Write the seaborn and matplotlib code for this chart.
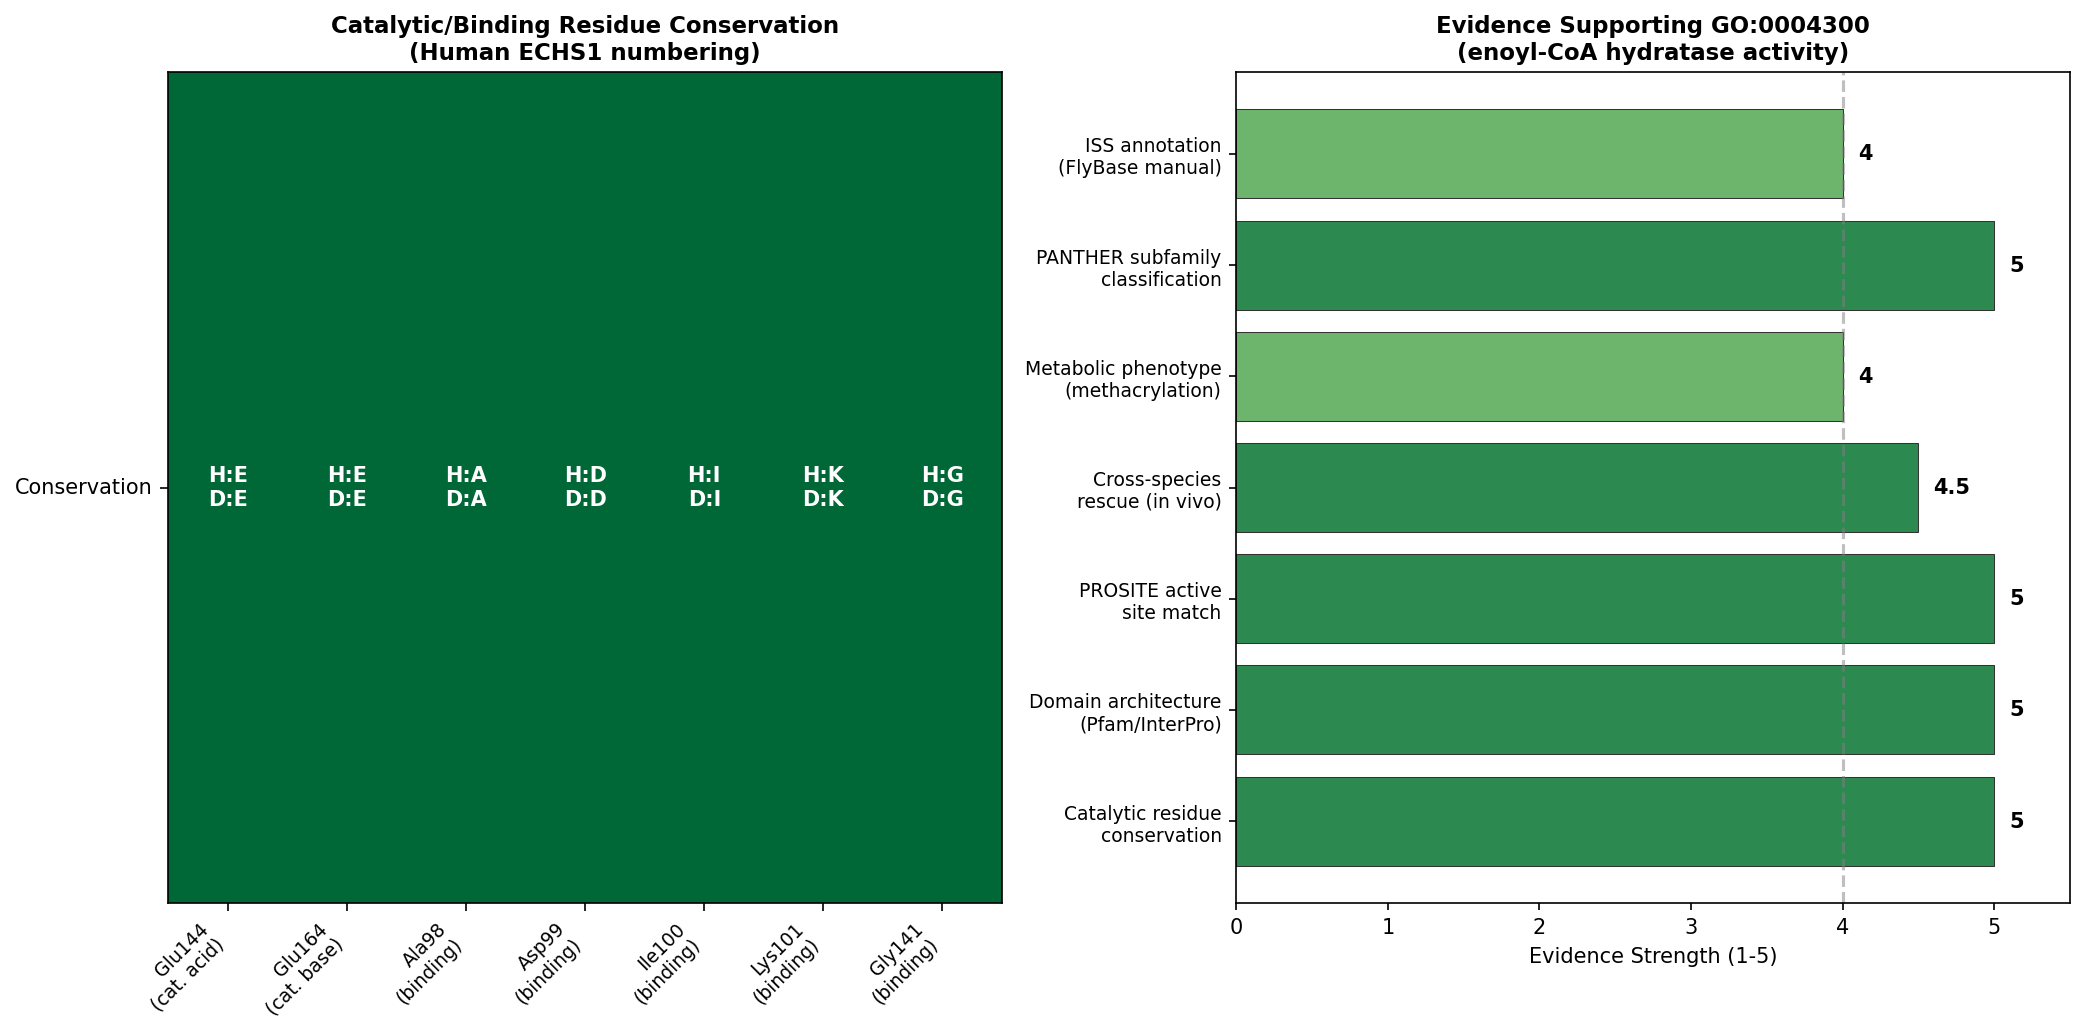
import pandas as pd
import seaborn as sns
import matplotlib.pyplot as plt
import numpy as np

# residue conservation data (human vs drosophila)
residues = ['Glu144\n(cat. acid)', 'Glu164\n(cat. base)', 'Ala98\n(binding)', 'Asp99\n(binding)',
            'Ile100\n(binding)', 'Lys101\n(binding)', 'Gly141\n(binding)']
human_aa = ['E', 'E', 'A', 'D', 'I', 'K', 'G']
fly_aa = ['E', 'E', 'A', 'D', 'I', 'K', 'G']
conserved = [1, 1, 1, 1, 1, 1, 1]

# evidence data, listed bottom to top
evidence = ['Catalytic residue\nconservation', 'Domain architecture\n(Pfam/InterPro)', 'PROSITE active\nsite match',
            'Cross-species\nrescue (in vivo)', 'Metabolic phenotype\n(methacrylation)', 'PANTHER subfamily\nclassification',
            'ISS annotation\n(FlyBase manual)']
strength = [5, 5, 5, 4.5, 4, 5, 4]

fig, (ax1, ax2) = plt.subplots(1, 2, figsize=(14, 7))

# *Heatmap of residue conservation
cons_df = pd.DataFrame([conserved], columns=residues, index=['Conservation'])
annot = np.array([[f'H:{h}\nD:{d}' for h, d in zip(human_aa, fly_aa)]])
sns.heatmap(cons_df, ax=ax1, cmap='RdYlGn', vmin=0, vmax=1, cbar=False,
            annot=annot, fmt='', annot_kws={'color': 'white', 'fontweight': 'bold', 'fontsize': 10})
for s in ax1.spines.values():
    s.set_visible(True)
    s.set_color('black')
ax1.set_xticklabels(ax1.get_xticklabels(), rotation=45, ha='right', fontsize=9)
ax1.set_yticklabels(ax1.get_yticklabels(), rotation=0, fontsize=10)
ax1.tick_params(axis='both', length=4)
ax1.set_title('Catalytic/Binding Residue Conservation\n(Human ECHS1 numbering)', fontsize=11, fontweight='bold')

# *Horizontal bars for evidence strength
ev_df = pd.DataFrame({'evidence': evidence[::-1], 'strength': strength[::-1]})
colors = ['#2c8a50' if v >= 4.5 else '#6db56d' for v in ev_df['strength']]
sns.barplot(data=ev_df, y='evidence', x='strength', hue='evidence', palette=colors, legend=False,
            orient='h', ax=ax2, edgecolor='#333333', linewidth=0.5, saturation=1)
ax2.set_ylim(6.74, -0.74)
ax2.axvline(4, color='gray', linestyle='--', alpha=0.5)
for i, v in enumerate(ev_df['strength']):
    ax2.text(v + 0.1, i, f'{v:g}', va='center', fontweight='bold', fontsize=10)
ax2.set_xlim(0, 5.5)
ax2.set_xlabel('Evidence Strength (1-5)', fontsize=10)
ax2.set_ylabel('')
ax2.tick_params(axis='y', labelsize=9)
ax2.set_title('Evidence Supporting GO:0004300\n(enoyl-CoA hydratase activity)', fontsize=11, fontweight='bold')

plt.tight_layout()
plt.savefig('out.png', dpi=150, bbox_inches='tight')
